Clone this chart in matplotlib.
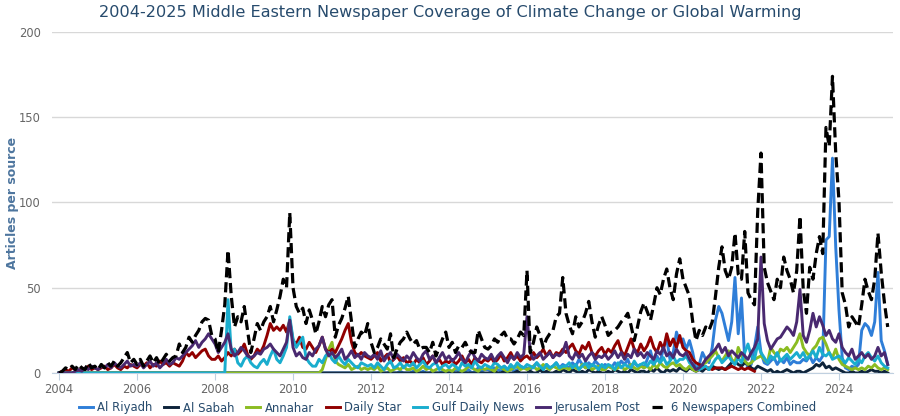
import numpy as np
import matplotlib.pyplot as plt

# monthly counts, Jan 2004 .. Apr 2025 (one row per year)
al_riyadh = [
    0, 0, 0, 0, 0, 0, 0, 0, 0, 0, 0, 0,
    0, 0, 0, 0, 0, 0, 0, 0, 0, 0, 0, 0,
    0, 0, 0, 0, 0, 0, 0, 0, 0, 0, 0, 0,
    0, 0, 0, 0, 0, 0, 0, 0, 0, 0, 0, 0,
    0, 0, 0, 0, 0, 0, 0, 0, 0, 0, 0, 0,
    0, 0, 0, 0, 0, 0, 0, 0, 0, 0, 0, 0,
    0, 0, 0, 0, 0, 0, 0, 0, 0, 0, 0, 0,
    0, 0, 0, 0, 0, 0, 0, 0, 0, 0, 0, 0,
    0, 0, 0, 0, 0, 0, 1, 0, 0, 1, 0, 0,
    0, 1, 0, 0, 1, 0, 0, 1, 0, 0, 1, 0,
    1, 0, 2, 1, 0, 1, 2, 0, 1, 3, 1, 2,
    2, 1, 3, 2, 1, 4, 2, 3, 1, 2, 4, 3,
    3, 2, 4, 6, 3, 2, 5, 3, 4, 6, 3, 5,
    4, 3, 6, 4, 8, 5, 3, 6, 4, 7, 5, 3,
    5, 4, 3, 6, 4, 7, 5, 8, 3, 6, 4, 5,
    3, 8, 13, 5, 10, 6, 15, 20, 8, 12, 24, 18,
    20, 14, 19, 12, 2, 5, 12, 8, 6, 15, 31, 39,
    35, 27, 19, 30, 56, 23, 44, 8, 3, 5, 15, 27,
    12, 6, 5, 7, 9, 5, 8, 6, 9, 5, 7, 6,
    6, 8, 7, 10, 6, 9, 7, 10, 78, 80, 126, 74,
    37, 9, 3, 2, 4, 3, 5, 25, 29, 27, 22, 30,
    59, 19, 13, 5,
]

al_sabah = [0] * (11 * 12) + [
    0, 0, 1, 0, 0, 1, 0, 0, 0, 1, 0, 0,
    0, 1, 0, 0, 2, 0, 1, 0, 0, 1, 0, 2,
    1, 0, 2, 1, 0, 1, 0, 2, 1, 0, 1, 0,
    0, 1, 0, 2, 1, 0, 1, 0, 2, 1, 0, 1,
    1, 0, 2, 1, 3, 1, 0, 2, 1, 2, 1, 3,
    2, 1, 3, 2, 1, 2, 1, 3, 2, 4, 3, 2,
    3, 2, 4, 6, 7, 5, 4, 6, 5, 3, 2, 4,
    3, 2, 1, 2, 0, 1, 0, 1, 2, 1, 0, 1,
    1, 0, 1, 2, 3, 5, 4, 6, 3, 4, 2, 3,
    2, 1, 0, 0, 1, 0, 0, 1, 0, 1, 2, 1,
    1, 0, 1, 0,
]

annahar = [0] * (6 * 12) + [
    0, 0, 0, 0, 0, 0, 0, 0, 0, 2, 8, 14,
    18, 7, 5, 4, 3, 5, 2, 3, 4, 2, 3, 2,
    3, 2, 4, 1, 2, 3, 1, 2, 3, 2, 4, 2,
    2, 3, 1, 2, 4, 2, 3, 1, 2, 3, 2, 1,
    2, 1, 3, 2, 1, 2, 4, 3, 2, 1, 3, 2,
    3, 2, 1, 4, 3, 2, 1, 2, 3, 4, 2, 3,
    2, 3, 4, 2, 3, 5, 3, 2, 4, 3, 2, 3,
    3, 2, 4, 3, 2, 5, 3, 4, 2, 3, 4, 2,
    2, 4, 3, 2, 3, 4, 2, 3, 5, 3, 2, 4,
    3, 4, 2, 5, 3, 6, 4, 3, 5, 6, 4, 5,
    3, 2, 4, 2, 1, 3, 5, 6, 8, 10, 13, 9,
    7, 10, 13, 8, 6, 15, 10, 7, 5, 6, 8, 9,
    10, 8, 6, 15, 12, 10, 14, 13, 15, 12, 15, 18,
    23, 15, 12, 10, 14, 16, 20, 21, 17, 12, 9, 14,
    8, 5, 4, 3, 2, 3, 2, 3, 2, 4, 3, 5,
    3, 2, 3, 2,
]

# the Daily Star stops in late 2021
daily_star = [
    0, 1, 2, 1, 3, 2, 1, 3, 2, 4, 2, 3,
    2, 3, 4, 2, 3, 5, 3, 2, 4, 3, 5, 4,
    3, 5, 4, 6, 3, 5, 4, 7, 5, 6, 4, 6,
    5, 4, 7, 12, 10, 12, 9, 11, 13, 14, 10, 8,
    8, 10, 7, 9, 12, 10, 14, 11, 13, 17, 11, 8,
    10, 14, 12, 16, 22, 29, 25, 27, 25, 28, 24, 31,
    19, 17, 21, 15, 14, 18, 15, 12, 16, 21, 14, 12,
    14, 12, 16, 20, 25, 29, 18, 12, 10, 12, 10, 9,
    8, 10, 12, 7, 9, 11, 6, 8, 10, 7, 9, 6,
    7, 5, 8, 6, 9, 5, 7, 10, 6, 8, 5, 7,
    6, 8, 5, 7, 10, 6, 8, 5, 9, 7, 6, 8,
    7, 9, 6, 8, 11, 7, 9, 12, 8, 10, 7, 9,
    10, 8, 12, 9, 11, 14, 10, 13, 9, 12, 11, 14,
    12, 15, 17, 13, 11, 16, 14, 18, 12, 10, 13, 15,
    11, 14, 12, 16, 19, 13, 10, 15, 20, 14, 12, 17,
    13, 16, 21, 15, 12, 18, 14, 23, 16, 20, 15, 22,
    15, 13, 12, 8, 6, 5, 4, 3, 3, 2, 3, 3,
    3, 2, 3, 4, 3, 2, 3, 2, 3, 2, 1,
]

gulf_daily_news = [0] * (4 * 12) + [
    0, 0, 0, 0, 43, 12, 14, 6, 4, 8, 10, 6,
    4, 3, 6, 8, 5, 10, 14, 8, 6, 10, 15, 33,
    20, 15, 18, 21, 9, 6, 4, 4, 8, 6, 10, 12,
    8, 6, 10, 7, 5, 8, 6, 4, 3, 6, 5, 4,
    5, 3, 6, 4, 2, 5, 7, 3, 4, 6, 3, 5,
    4, 6, 3, 5, 7, 4, 3, 5, 6, 2, 4, 5,
    3, 5, 4, 2, 6, 4, 5, 3, 7, 4, 3, 5,
    4, 3, 6, 5, 3, 4, 2, 5, 3, 6, 4, 3,
    5, 4, 3, 6, 4, 2, 5, 3, 4, 6, 3, 4,
    4, 6, 3, 5, 2, 4, 6, 3, 5, 4, 2, 5,
    3, 5, 4, 2, 6, 3, 5, 4, 3, 7, 4, 5,
    6, 4, 7, 5, 8, 6, 9, 5, 7, 10, 6, 8,
    8, 10, 6, 4, 3, 2, 3, 4, 2, 5, 8, 10,
    6, 8, 10, 7, 5, 9, 6, 12, 17, 10, 8, 17,
    12, 9, 6, 10, 8, 12, 7, 9, 11, 8, 10, 12,
    9, 12, 8, 10, 13, 9, 15, 11, 10, 12, 8, 9,
    10, 8, 6, 9, 7, 5, 8, 6, 10, 12, 9, 7,
    10, 6, 4, 3,
]

jerusalem_post = [
    0, 0, 0, 0, 0, 1, 2, 1, 3, 2, 4, 3,
    2, 4, 3, 5, 3, 6, 4, 3, 5, 7, 4, 5,
    4, 6, 3, 5, 7, 4, 6, 3, 5, 8, 5, 6,
    9, 8, 10, 12, 14, 16, 19, 15, 18, 20, 23, 20,
    17, 12, 15, 18, 23, 14, 10, 12, 15, 13, 10, 9,
    10, 12, 11, 14, 15, 17, 14, 12, 10, 14, 18, 31,
    15, 10, 12, 9, 8, 12, 10, 14, 16, 21, 14, 10,
    12, 9, 11, 14, 8, 10, 13, 9, 11, 8, 12, 10,
    9, 11, 8, 13, 7, 10, 12, 8, 11, 9, 7, 10,
    8, 12, 9, 7, 11, 13, 8, 10, 6, 9, 12, 8,
    10, 7, 9, 12, 8, 6, 10, 13, 9, 7, 11, 9,
    8, 11, 7, 10, 12, 9, 6, 10, 8, 12, 9, 11,
    33, 12, 8, 10, 12, 8, 10, 12, 9, 11, 10, 12,
    18, 10, 8, 12, 9, 11, 7, 10, 12, 8, 10, 9,
    11, 8, 10, 13, 9, 12, 8, 11, 9, 14, 10, 12,
    9, 12, 10, 8, 13, 11, 15, 10, 12, 9, 14, 11,
    10, 12, 8, 5, 2, 3, 5, 8, 10, 12, 14, 17,
    12, 15, 10, 13, 11, 9, 12, 10, 8, 12, 15, 20,
    68, 29, 19, 14, 17, 20, 21, 24, 27, 25, 22, 30,
    49, 22, 18, 25, 35, 27, 33, 28, 22, 25, 20, 18,
    23, 15, 12, 10, 14, 8, 10, 12, 9, 11, 8, 10,
    15, 10, 12, 5,
]

combined = [
    0, 1, 3, 2, 4, 2, 5, 3, 2, 6, 3, 4,
    2, 5, 3, 6, 4, 7, 4, 6, 9, 12, 6, 8,
    5, 8, 4, 7, 10, 6, 9, 5, 8, 11, 7, 9,
    10, 17, 12, 15, 21, 18, 22, 25, 30, 32, 31, 22,
    20, 12, 25, 40, 72, 45, 27, 33, 30, 39, 25, 12,
    20, 29, 25, 30, 33, 39, 30, 37, 45, 55, 50, 94,
    50, 39, 35, 38, 29, 37, 31, 23, 30, 39, 33, 40,
    43, 21, 28, 32, 38, 45, 30, 15, 20, 24, 22, 29,
    18, 12, 15, 20, 17, 14, 23, 9, 14, 18, 20, 24,
    20, 17, 19, 14, 15, 15, 12, 18, 10, 15, 20, 24,
    15, 18, 12, 16, 15, 18, 14, 12, 12, 25, 20, 15,
    14, 16, 20, 18, 22, 24, 20, 20, 17, 20, 24, 22,
    60, 12, 18, 27, 22, 15, 20, 23, 25, 33, 35, 56,
    35, 28, 23, 33, 27, 30, 35, 42, 30, 21, 28, 33,
    28, 22, 24, 25, 27, 30, 32, 35, 28, 19, 27, 36,
    41, 36, 31, 40, 50, 46, 55, 61, 50, 43, 58, 67,
    55, 50, 45, 30, 19, 25, 22, 27, 25, 30, 45, 62,
    74, 60, 55, 62, 82, 58, 55, 83, 47, 43, 40, 95,
    129, 62, 53, 48, 43, 55, 50, 68, 60, 55, 47, 60,
    92, 49, 35, 62, 55, 70, 80, 70, 144, 133, 174, 129,
    101, 47, 40, 27, 33, 30, 27, 40, 55, 48, 43, 55,
    82, 59, 41, 27,
]

series = [
    ("Al Riyadh", al_riyadh, "#2f7ed8"),
    ("Al Sabah", al_sabah, "#0d233a"),
    ("Annahar", annahar, "#8bbc21"),
    ("Daily Star", daily_star, "#910000"),
    ("Gulf Daily News", gulf_daily_news, "#1aadce"),
    ("Jerusalem Post", jerusalem_post, "#492970"),
]

fig = plt.figure(figsize=(9, 4.16), dpi=100)
ax = fig.add_axes([0.0578, 0.1034, 0.9344, 0.8197])

for name, vals, col in series:
    x = 2004 + np.arange(len(vals)) / 12.0
    ax.plot(x, vals, color=col, lw=2.1, label=name, solid_joinstyle='round')

x = 2004 + np.arange(len(combined)) / 12.0
ax.plot(x, combined, color='black', lw=2.3, ls=(0, (3.2, 1.5)),
        label="6 Newspapers Combined", zorder=5)

ax.set_xlim(2003.82, 2025.385)
ax.set_ylim(0, 200)
ax.set_xticks(range(2004, 2025, 2))
ax.set_yticks([0, 50, 100, 150, 200])
ax.grid(axis='y', color='#d8d8d8', lw=1)
ax.set_axisbelow(True)
for s in ['top', 'right', 'left']:
    ax.spines[s].set_visible(False)
ax.spines['bottom'].set_color('#c0d0e0')
ax.tick_params(axis='x', colors='#c0d0e0', length=5, labelcolor='#666666', labelsize=8.3, pad=2)
ax.tick_params(axis='y', length=0, labelcolor='#666666', labelsize=8.3, pad=8)

fig.text(0.5, 1 - 12 / 416, "2004-2025 Middle Eastern Newspaper Coverage of Climate Change or Global Warming",
         ha='center', va='center', fontsize=11.6, color='#274b6d')
fig.text(13 / 900, 0.1034 + 0.8197 / 2, "Articles per source", rotation=90,
         ha='center', va='center', fontsize=9, color='#4d759e', weight='bold')

fig.legend(loc='center', bbox_to_anchor=(0.497, 1 - 408 / 416), ncol=7, frameon=False,
           fontsize=8.4, handlelength=1.2, handletextpad=0.4, columnspacing=1.0,
           labelcolor='#274b6d')

plt.savefig('out.png', dpi=100)
